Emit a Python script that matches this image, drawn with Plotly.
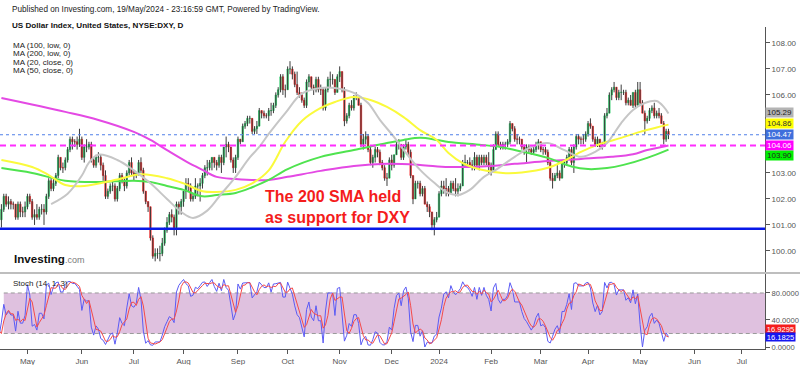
import numpy as np
import pandas as pd
import plotly.graph_objects as go

# ---------------- data ----------------
holidays = ["2023-04-07", "2023-12-25", "2024-01-01", "2024-03-29"]
all_days = pd.bdate_range("2023-04-03", "2024-05-17")
dates = [d for d in all_days if d.strftime("%Y-%m-%d") not in holidays]

opens = [
    102.5, 102.1, 101.5, 101.9, 102.0, 102.5, 102.1, 101.5, 101.2, 101.6, 102.1, 101.8, 101.9, 101.8, 101.8, 101.3, 101.8, 101.5, 101.5,
    101.7, 102.1, 101.9, 101.3, 101.4, 101.3, 101.6, 101.6, 101.5, 102.1, 102.7, 102.4, 102.6, 102.9, 103.6, 103.2, 103.2, 103.5, 103.9, 104.3, 104.2, 104.2, 104.1,
    104.3, 103.6, 104.0, 104.0, 104.1, 103.5, 103.3, 103.6, 103.6, 103.3, 102.9, 102.1, 102.3, 102.5, 102.5, 102.0, 102.4, 102.9, 102.7, 102.5, 103.0, 103.4,
    103.0, 102.9, 103.0, 103.4, 103.1, 102.3, 101.9, 101.7, 100.5, 99.8, 99.9, 99.9, 99.9, 100.3, 100.8, 101.1, 101.4, 101.3, 100.9, 101.8, 101.7,
    101.9, 102.3, 102.6, 102.5, 102.0, 102.1, 102.5, 102.5, 102.6, 102.9, 103.2, 103.2, 103.4, 103.6, 103.4, 103.3, 103.6, 103.4, 104.0, 104.1, 104.0, 103.5, 103.2,
    103.6, 104.3, 104.2, 104.8, 104.9, 105.1, 105.1, 104.6, 104.7, 104.8, 105.4, 105.3, 105.2, 105.2, 105.4, 105.4, 105.6, 106.0, 106.2, 106.7, 106.2,
    106.2, 107.0, 107.0, 106.8, 106.4, 106.1, 106.0, 105.8, 105.6, 106.5, 106.7, 106.3, 106.2, 106.6, 106.2, 106.2, 105.5, 106.2, 106.6, 106.6, 106.6, 106.1,
    106.7, 106.9, 106.2, 105.0, 105.2, 105.6, 105.5, 105.9, 105.9, 105.6, 104.1, 104.3, 104.4, 103.9, 103.4, 103.6, 103.9, 103.8, 103.4, 103.2, 102.8, 102.8,
    103.5, 103.3, 103.7, 104.1, 104.1, 103.6, 104.0, 104.1, 103.8, 102.9, 102.0, 102.6, 102.6, 102.2, 102.4, 101.8, 101.7, 101.5, 101.0, 101.2,
    101.3, 102.2, 102.5, 102.4, 102.4, 102.2, 102.6, 102.4, 102.3, 102.4, 102.5, 103.4, 103.4, 103.4, 103.3, 103.3, 103.6, 103.3, 103.6, 103.4, 103.6, 103.4,
    103.3, 103.1, 103.9, 104.5, 104.1, 104.0, 104.1, 104.1, 104.2, 104.9, 104.7, 104.3, 104.3, 104.3, 104.0, 103.9, 104.0, 103.9, 103.8, 103.9, 104.1,
    104.2, 103.9, 103.9, 103.8, 103.4, 102.8, 102.7, 102.9, 103.0, 102.8, 103.4, 103.4, 103.6, 103.9, 103.4, 104.0, 104.4, 104.3, 104.3, 104.3,
    104.5, 104.9, 104.8, 104.3, 104.1, 104.3, 104.0, 104.1, 105.2, 105.3, 106.0, 106.2, 106.3, 105.9, 106.1, 106.1, 106.1, 105.7, 105.8, 105.6, 106.1, 105.6,
    106.2, 105.7, 105.3, 105.0, 105.1, 105.4, 105.5, 105.2, 105.3, 105.2, 104.9, 104.3, 104.6,
]
highs = [
    102.8, 102.2, 102.0, 102.1, 102.6, 102.6, 102.2, 101.6, 101.8, 102.2, 102.2, 102.1, 102.0, 101.9, 101.8, 101.9, 101.9, 101.7, 101.9,
    102.2, 102.2, 102.0, 101.6, 101.8, 101.7, 101.8, 101.8, 102.2, 102.8, 102.8, 102.8, 103.0, 103.7, 103.6, 103.4, 103.6, 104.0, 104.4, 104.4, 104.3, 104.4, 104.7,
    104.4, 104.1, 104.3, 104.2, 104.2, 103.6, 103.7, 103.8, 103.7, 103.4, 103.1, 102.4, 102.6, 102.7, 102.6, 102.5, 103.0, 103.0, 102.8, 103.1, 103.5, 103.6,
    103.1, 103.0, 103.5, 103.6, 103.2, 102.3, 101.9, 101.7, 100.6, 100.1, 100.1, 100.2, 100.5, 100.9, 101.3, 101.5, 101.6, 101.4, 101.9, 101.9, 102.0,
    102.3, 102.8, 102.8, 102.6, 102.2, 102.8, 102.6, 102.8, 103.0, 103.3, 103.5, 103.5, 103.6, 103.6, 103.5, 103.7, 103.7, 104.0, 104.4, 104.2, 104.0, 103.6, 103.7,
    104.4, 104.3, 104.9, 105.0, 105.2, 105.2, 105.1, 104.8, 105.0, 105.5, 105.4, 105.4, 105.3, 105.5, 105.7, 105.7, 106.1, 106.3, 106.8, 106.8, 106.4,
    107.1, 107.3, 107.1, 106.9, 106.9, 106.3, 106.1, 105.9, 106.6, 106.8, 106.7, 106.4, 106.7, 106.7, 106.4, 106.3, 106.3, 106.7, 106.9, 106.8, 106.6, 106.8,
    107.1, 106.9, 106.3, 105.3, 105.7, 105.8, 106.0, 106.1, 105.9, 105.7, 104.5, 104.6, 104.5, 104.0, 103.7, 104.0, 104.0, 103.9, 103.5, 103.3, 103.0, 103.6,
    103.7, 103.7, 104.2, 104.3, 104.1, 104.1, 104.3, 104.2, 103.9, 102.9, 102.7, 102.7, 102.7, 102.5, 102.5, 101.9, 101.8, 101.5, 101.3, 101.5,
    102.3, 102.7, 102.7, 102.8, 102.5, 102.7, 102.7, 102.8, 102.6, 102.6, 103.5, 103.7, 103.5, 103.6, 103.5, 103.8, 103.7, 103.7, 103.7, 103.7, 103.7, 103.8,
    103.4, 104.1, 104.6, 104.6, 104.2, 104.2, 104.2, 104.3, 105.0, 104.9, 104.8, 104.5, 104.4, 104.3, 104.1, 104.1, 104.1, 104.0, 104.0, 104.2, 104.3,
    104.2, 104.0, 104.0, 103.9, 103.5, 103.0, 103.0, 103.3, 103.1, 103.5, 103.5, 103.7, 104.0, 104.0, 104.1, 104.5, 104.5, 104.4, 104.5, 104.6,
    105.0, 105.1, 104.8, 104.4, 104.4, 104.3, 104.2, 105.3, 105.5, 106.1, 106.3, 106.5, 106.3, 106.2, 106.4, 106.2, 106.2, 105.9, 106.0, 106.1, 106.2, 106.5,
    106.5, 105.8, 105.4, 105.2, 105.5, 105.6, 105.7, 105.4, 105.5, 105.3, 105.0, 104.7, 104.7,
]
lows = [
    101.9, 101.4, 101.4, 101.6, 101.9, 102.0, 101.4, 100.9, 100.9, 101.5, 101.7, 101.6, 101.6, 101.6, 101.2, 101.2, 101.3, 101.3, 101.3,
    101.6, 101.8, 101.2, 101.0, 101.2, 101.2, 101.4, 101.0, 101.4, 102.0, 102.3, 102.3, 102.5, 102.8, 103.1, 103.0, 103.1, 103.4, 103.8, 103.9, 104.0, 103.9, 104.0,
    103.5, 103.4, 103.8, 103.9, 103.4, 103.2, 103.2, 103.4, 103.1, 102.7, 102.0, 102.0, 102.2, 102.3, 101.9, 101.9, 102.3, 102.6, 102.3, 102.4, 102.9, 102.9,
    102.7, 102.8, 102.9, 103.0, 102.2, 101.8, 101.5, 100.4, 99.7, 99.6, 99.7, 99.6, 99.8, 100.2, 100.7, 101.0, 101.1, 100.6, 100.6, 101.4, 101.4,
    101.7, 102.0, 102.3, 101.9, 101.9, 102.0, 102.1, 101.9, 102.4, 102.8, 102.9, 103.1, 103.1, 103.2, 103.1, 103.2, 103.0, 103.3, 103.6, 103.8, 103.4, 103.0, 103.0,
    103.5, 104.1, 104.2, 104.7, 104.8, 104.9, 104.5, 104.5, 104.5, 104.8, 105.1, 105.1, 105.1, 105.0, 105.2, 105.3, 105.5, 105.9, 106.1, 106.0, 105.9,
    106.2, 106.8, 106.6, 106.3, 106.0, 105.9, 105.7, 105.5, 105.5, 106.3, 106.2, 106.0, 106.1, 106.1, 106.0, 105.4, 105.4, 106.1, 106.3, 106.4, 106.0, 106.1,
    106.5, 106.1, 104.8, 104.9, 105.1, 105.4, 105.4, 105.8, 105.6, 104.0, 103.9, 104.1, 103.8, 103.3, 103.2, 103.4, 103.6, 103.3, 103.1, 102.7, 102.5, 102.8,
    103.1, 103.2, 103.7, 103.9, 103.5, 103.5, 103.9, 103.7, 102.8, 101.8, 102.0, 102.4, 102.1, 102.1, 101.8, 101.5, 101.3, 100.8, 100.6, 101.1,
    101.3, 102.1, 102.2, 102.1, 102.1, 102.2, 102.3, 102.1, 102.1, 102.3, 102.5, 103.2, 103.2, 103.2, 103.1, 103.1, 103.2, 103.1, 103.3, 103.3, 103.3, 103.0,
    102.9, 103.1, 103.9, 104.0, 103.9, 103.9, 103.9, 104.0, 104.1, 104.6, 104.2, 104.1, 104.1, 103.9, 103.7, 103.4, 103.8, 103.7, 103.7, 103.8, 103.9,
    103.8, 103.7, 103.7, 103.3, 102.7, 102.4, 102.7, 102.8, 102.7, 102.8, 103.2, 103.3, 103.5, 103.3, 103.0, 103.9, 104.1, 104.1, 104.1, 104.2,
    104.4, 104.7, 104.2, 104.0, 104.0, 104.0, 103.9, 104.0, 105.1, 105.3, 105.8, 106.1, 105.8, 105.8, 105.8, 106.0, 105.6, 105.6, 105.6, 105.5, 105.5, 105.6,
    105.6, 105.3, 104.5, 104.9, 105.0, 105.3, 105.1, 105.1, 105.1, 104.9, 104.1, 104.2, 104.3,
]
closes = [
    102.1, 101.5, 101.9, 101.9, 102.5, 102.1, 101.5, 101.2, 101.6, 102.1, 101.8, 101.9, 101.8, 101.8, 101.3, 101.8, 101.5, 101.5, 101.7,
    102.1, 101.9, 101.3, 101.4, 101.3, 101.6, 101.6, 101.5, 102.1, 102.7, 102.4, 102.6, 102.9, 103.6, 103.2, 103.2, 103.5, 103.9, 104.3, 104.2, 104.2, 104.1, 104.3,
    103.6, 104.0, 104.0, 104.1, 103.5, 103.3, 103.6, 103.6, 103.3, 102.9, 102.1, 102.3, 102.5, 102.5, 102.0, 102.4, 102.9, 102.7, 102.5, 103.0, 103.4, 103.0,
    102.9, 103.0, 103.4, 103.1, 102.3, 101.9, 101.7, 100.5, 99.8, 99.9, 99.9, 99.9, 100.3, 100.8, 101.1, 101.4, 101.3, 100.9, 101.8, 101.7, 101.9,
    102.3, 102.6, 102.5, 102.0, 102.1, 102.5, 102.5, 102.6, 102.9, 103.2, 103.2, 103.4, 103.6, 103.4, 103.3, 103.6, 103.4, 104.0, 104.1, 104.0, 103.5, 103.2, 103.6,
    104.3, 104.2, 104.8, 104.9, 105.1, 105.1, 104.6, 104.7, 104.8, 105.4, 105.3, 105.2, 105.2, 105.4, 105.4, 105.6, 106.0, 106.2, 106.7, 106.2, 106.2,
    107.0, 107.0, 106.8, 106.4, 106.1, 106.0, 105.8, 105.6, 106.5, 106.7, 106.3, 106.2, 106.6, 106.2, 106.2, 105.5, 106.2, 106.6, 106.6, 106.6, 106.1, 106.7,
    106.9, 106.2, 105.0, 105.2, 105.6, 105.5, 105.9, 105.9, 105.6, 104.1, 104.3, 104.4, 103.9, 103.4, 103.6, 103.9, 103.8, 103.4, 103.2, 102.8, 102.8, 103.5,
    103.3, 103.7, 104.1, 104.1, 103.6, 104.0, 104.1, 103.8, 102.9, 102.0, 102.6, 102.6, 102.2, 102.4, 101.8, 101.7, 101.5, 101.0, 101.2, 101.3,
    102.2, 102.5, 102.4, 102.4, 102.2, 102.6, 102.4, 102.3, 102.4, 102.5, 103.4, 103.4, 103.4, 103.3, 103.3, 103.6, 103.3, 103.6, 103.4, 103.6, 103.4, 103.3,
    103.1, 103.9, 104.5, 104.1, 104.0, 104.1, 104.1, 104.2, 104.9, 104.7, 104.3, 104.3, 104.3, 104.0, 103.9, 104.0, 103.9, 103.8, 103.9, 104.1, 104.2,
    103.9, 103.9, 103.8, 103.4, 102.8, 102.7, 102.9, 103.0, 102.8, 103.4, 103.4, 103.6, 103.9, 103.4, 104.0, 104.4, 104.3, 104.3, 104.3, 104.5,
    104.9, 104.8, 104.3, 104.1, 104.3, 104.0, 104.1, 105.2, 105.3, 106.0, 106.2, 106.3, 105.9, 106.1, 106.1, 106.1, 105.7, 105.8, 105.6, 106.1, 105.6, 106.2,
    105.7, 105.3, 105.0, 105.1, 105.4, 105.5, 105.2, 105.3, 105.2, 104.9, 104.3, 104.6, 104.47,
]

# Moving averages
ma20_dates = ["2023-05-15", "2023-05-24", "2023-06-01", "2023-06-06", "2023-06-12", "2023-06-22", "2023-07-03",
              "2023-07-12", "2023-07-21", "2023-07-31", "2023-08-07", "2023-08-15", "2023-08-23", "2023-08-31",
              "2023-09-08", "2023-09-14", "2023-09-20", "2023-09-29", "2023-10-10", "2023-10-20", "2023-10-30",
              "2023-11-09", "2023-11-17", "2023-11-24", "2023-12-04", "2023-12-11", "2023-12-19", "2023-12-28",
              "2024-01-05", "2024-01-12", "2024-01-19", "2024-01-29", "2024-02-05", "2024-02-15", "2024-02-26",
              "2024-03-06", "2024-03-15", "2024-03-26", "2024-04-04", "2024-04-11", "2024-04-19", "2024-04-26",
              "2024-05-03", "2024-05-10", "2024-05-15", "2024-05-17"]
ma20_vals = [101.80, 102.20, 102.90, 103.40, 103.70, 103.50, 103.10,
             102.60, 102.00, 101.50, 101.27, 101.55, 102.20, 102.85,
             103.60, 104.00, 104.50, 105.30, 106.05, 106.27, 106.27,
             106.08, 105.69, 105.04, 104.38, 103.77, 103.12, 102.62,
             102.27, 102.15, 102.35, 102.85, 103.12, 103.62, 104.00,
             104.15, 103.88, 103.62, 103.81, 104.15, 104.92, 105.42,
             105.69, 105.77, 105.54, 105.29]

ma50_dates = ["2023-04-14", "2023-05-03", "2023-05-12", "2023-05-23", "2023-06-02", "2023-06-22", "2023-07-06",
              "2023-07-21", "2023-08-01", "2023-08-11", "2023-08-21", "2023-08-31", "2023-09-11", "2023-09-20",
              "2023-09-29", "2023-10-10", "2023-10-20", "2023-10-30", "2023-11-09", "2023-11-20", "2023-11-29",
              "2023-12-08", "2023-12-19", "2023-12-29", "2024-01-08", "2024-01-16", "2024-01-26", "2024-02-08",
              "2024-02-20", "2024-03-06", "2024-03-14", "2024-03-26", "2024-04-05", "2024-04-19", "2024-05-01",
              "2024-05-10", "2024-05-17"]
ma50_vals = [103.50, 103.23, 102.92, 102.54, 102.50, 102.75, 102.95,
             102.80, 102.60, 102.30, 102.27, 102.35, 102.60, 103.10,
             104.20, 105.00, 105.50, 105.73, 105.92, 105.81, 105.54,
             105.15, 104.65, 104.27, 103.77, 103.38, 103.12, 103.00,
             103.02, 103.20, 103.42, 103.81, 104.08, 104.35, 104.58,
             104.75, 104.86]

ma100_dates = ["2023-04-14", "2023-05-03", "2023-05-23", "2023-06-12", "2023-07-03", "2023-07-12", "2023-07-21",
               "2023-08-01", "2023-08-11", "2023-08-21", "2023-08-31", "2023-09-11", "2023-09-20", "2023-10-02",
               "2023-10-20", "2023-11-09", "2023-11-29", "2023-12-08", "2023-12-19", "2023-12-29", "2024-01-08",
               "2024-01-26", "2024-02-07", "2024-02-15", "2024-03-06", "2024-03-20", "2024-04-01", "2024-04-11",
               "2024-04-22", "2024-05-06", "2024-05-17"]
ma100_vals = [103.19, 103.00, 102.70, 102.65, 102.70, 102.65, 102.50,
              102.35, 102.10, 102.15, 102.23, 102.45, 102.73, 103.15,
              103.62, 103.88, 104.15, 104.27, 104.35, 104.27, 104.19,
              104.08, 104.00, 103.88, 103.58, 103.25, 103.15, 103.19,
              103.31, 103.58, 103.90]

ma200_dates = ["2023-04-14", "2023-05-23", "2023-06-12", "2023-07-03", "2023-07-12", "2023-07-21", "2023-08-02",
               "2023-08-11", "2023-08-21", "2023-08-31", "2023-09-20", "2023-10-02", "2023-10-20", "2023-11-09",
               "2023-11-29", "2023-12-19", "2024-01-08", "2024-01-26", "2024-02-15", "2024-03-06", "2024-03-26",
               "2024-04-15", "2024-04-26", "2024-05-06", "2024-05-17"]
ma200_vals = [105.88, 105.35, 105.04, 104.58, 104.27, 103.88, 103.45,
              103.12, 102.85, 102.77, 102.73, 102.85, 103.08, 103.27,
              103.35, 103.31, 103.23, 103.25, 103.35, 103.46, 103.54,
              103.62, 103.72, 103.88, 104.06]

support_level = 100.85
sma_level = 104.06
stoch_last = {"d": 16.9295, "k": 16.1825}

main_ticks = [100, 101, 102, 103, 104, 105, 106, 107, 108]
hidden_main_ticks = [104, 105]          # covered by the value boxes in the reference
stoch_ticks = [0, 40, 80]
month_ticks = ["2023-05-01", "2023-06-01", "2023-07-03", "2023-08-01", "2023-09-01", "2023-10-02", "2023-11-01",
               "2023-12-01", "2024-01-02", "2024-02-01", "2024-03-01", "2024-04-01", "2024-05-01", "2024-06-03",
               "2024-07-01"]
month_labels = ["May", "Jun", "Jul", "Aug", "Sep", "Oct", "Nov", "Dec", "2024", "Feb", "Mar", "Apr", "May", "Jun", "Jul"]

n = len(dates)
assert len(opens) == len(highs) == len(lows) == len(closes) == n, (len(opens), len(highs), len(lows), len(closes), n)

# ---------------- derived ----------------
o = np.array(opens); h = np.array(highs); l = np.array(lows); c = np.array(closes)
body_hi = np.maximum(o, c)
body_lo = np.minimum(o, c)

wx, wy = [], []
for d, lo, hi in zip(dates, lows, highs):
    wx += [d, d, None]
    wy += [lo, hi, None]

hh = pd.Series(h).rolling(14, min_periods=1).max()
ll = pd.Series(l).rolling(14, min_periods=1).min()
k = 100 * (pd.Series(c) - ll) / (hh - ll).replace(0, np.nan)
k = k.fillna(50)
dline = k.rolling(3, min_periods=1).mean()

# ---------------- figure ----------------
FONT = "Arial, Liberation Sans, sans-serif"
PW, PT, PB = 765.0, 27.0, 349.0


def px(x):
    return x / PW


def py(y):
    return (PB - y) / (PB - PT)


UP, DOWN = "#19c45a", "#f51c1c"
C_MA20, C_MA50, C_MA100, C_MA200 = "#c6c6c6", "#fafa3c", "#4fe34f", "#e449e4"

fig = go.Figure()
fig.add_trace(go.Scatter(x=wx, y=wy, mode="lines", line=dict(color="#3c3c3c", width=1),
                         hoverinfo="skip", showlegend=False, xaxis="x", yaxis="y"))
fig.add_trace(go.Candlestick(x=dates, open=o, high=body_hi, low=body_lo, close=c,
                             increasing=dict(fillcolor=UP, line=dict(color=UP, width=0.6)),
                             decreasing=dict(fillcolor=DOWN, line=dict(color=DOWN, width=0.6)),
                             whiskerwidth=0, showlegend=False, xaxis="x", yaxis="y"))
for dts, vals, col in [(ma200_dates, ma200_vals, C_MA200), (ma100_dates, ma100_vals, C_MA100),
                       (ma50_dates, ma50_vals, C_MA50), (ma20_dates, ma20_vals, C_MA20)]:
    fig.add_trace(go.Scatter(x=dts, y=vals, mode="lines", line=dict(color=col, width=2, shape="spline", smoothing=1.0),
                             hoverinfo="skip", showlegend=False, xaxis="x", yaxis="y"))

fig.add_trace(go.Scatter(x=dates, y=k, mode="lines", line=dict(color="#5b5bf5", width=1),
                         showlegend=False, xaxis="x2", yaxis="y2"))
fig.add_trace(go.Scatter(x=dates, y=dline, mode="lines", line=dict(color="#f54a4a", width=1),
                         showlegend=False, xaxis="x2", yaxis="y2"))

x_range = ["2023-04-13 09:36", "2024-07-12 19:12"]
rbreaks = [dict(bounds=["sat", "mon"]), dict(values=holidays)]

shapes = [
    # stochastic band
    dict(type="rect", xref="x2", yref="y2", x0="2023-04-17", x1=x_range[1], y0=20, y1=80,
         fillcolor="#dfc1df", line=dict(width=0), layer="below"),
    dict(type="line", xref="x2", yref="y2", x0="2023-04-17", x1=x_range[1], y0=80, y1=80,
         line=dict(color="#9a9a9a", width=1, dash="4px,3px"), layer="below"),
    dict(type="line", xref="x2", yref="y2", x0="2023-04-17", x1=x_range[1], y0=20, y1=20,
         line=dict(color="#9a9a9a", width=1, dash="4px,3px"), layer="below"),
    # horizontal levels
    dict(type="line", xref="paper", yref="y", x0=0, x1=1, y0=closes[-1], y1=closes[-1],
         line=dict(color="#4f7fe8", width=1, dash="dot"), layer="above"),
    dict(type="line", xref="paper", yref="y", x0=0, x1=1, y0=sma_level, y1=sma_level,
         line=dict(color="#ff2cff", width=2, dash="6px,4px"), layer="above"),
    dict(type="line", xref="paper", yref="y", x0=0, x1=1, y0=support_level, y1=support_level,
         line=dict(color="#0818e8", width=2.5), layer="above"),
    # pane separator
    dict(type="line", xref="paper", yref="paper", x0=0, x1=800 / PW, y0=py(273), y1=py(273),
         line=dict(color="#a8a8a8", width=1.5)),
]

ann = []
ann.append(dict(x=px(10), y=py(10), text="Published on Investing.com, 19/May/2024 - 23:16:59 GMT, Powered by TradingView.",
                font=dict(size=8.2, color="#222"), xanchor="left", yanchor="middle"))
ann.append(dict(x=px(10), y=py(25), text="<b>US Dollar Index, United States, NYSE:DXY, D</b>",
                font=dict(size=8.1, color="#111"), xanchor="left", yanchor="middle"))
for i, t in enumerate(["MA (100, low, 0)", "MA (200, low, 0)", "MA (20, close, 0)", "MA (50, close, 0)"]):
    ann.append(dict(x=px(11), y=py(45 + 8.5 * i), text=t, font=dict(size=8, color="#222"),
                    xanchor="left", yanchor="middle"))
ann.append(dict(x=px(263), y=py(207), text="<b>The 200 SMA held<br>as support for DXY</b>",
                font=dict(size=16, color="#f41c1c"), xanchor="left", yanchor="middle", align="left"))
ann.append(dict(x=px(12), y=py(258), text="<b>Investing</b><span style='font-size:9px;color:#7a7a7a'>.com</span>",
                font=dict(size=11.6, color="#111"), xanchor="left", yanchor="middle"))
ann.append(dict(x=px(11), y=py(283), text="Stoch (14, 1, 3)", font=dict(size=8, color="#222"),
                xanchor="left", yanchor="middle"))

# value labels on the right axis (label y positions in pixels)
main_labels = [
    (ma20_vals[-1], 113, "#b4b4b4", "#222"),
    (ma50_vals[-1], 124, "#ffff00", "#333"),
    (closes[-1], 134.5, "#3f6fdc", "#fff"),
    (ma200_vals[-1], 145.5, "#ff00ff", "#fff"),
    (ma100_vals[-1], 155.5, "#00f000", "#222"),
]
for v, ypix, bg, fg in main_labels:
    ann.append(dict(x=px(765), y=py(ypix), text=f"{v:.2f}", font=dict(size=8, color=fg), bgcolor=bg,
                    xanchor="left", yanchor="middle", width=27, height=9, borderpad=0, align="center"))
for v, ypix, bg in [(stoch_last["d"], 328.5, "#f51c1c"), (stoch_last["k"], 337, "#1616f0")]:
    ann.append(dict(x=px(765), y=py(ypix), text=f"{v:.4f}", font=dict(size=7.6, color="#fff"), bgcolor=bg,
                    xanchor="left", yanchor="middle", width=29, height=8, borderpad=0, align="center"))
for a in ann:
    a.update(xref="paper", yref="paper", showarrow=False)

axis_common = dict(showgrid=False, zeroline=False, fixedrange=True)
fig.update_layout(
    width=800, height=365,
    margin=dict(l=0, r=35, t=27, b=16),
    paper_bgcolor="white", plot_bgcolor="white",
    font=dict(family=FONT, size=8, color="#555"),
    showlegend=False,
    boxgap=0.12,
    xaxis=dict(anchor="y", domain=[0, 1], range=x_range, rangebreaks=rbreaks, showticklabels=False,
               rangeslider=dict(visible=False), showline=False, ticks="", **axis_common),
    xaxis2=dict(anchor="y2", domain=[0, 1], range=x_range, rangebreaks=rbreaks, matches="x",
                tickmode="array", tickvals=month_ticks, ticktext=month_labels,
                showline=True, linecolor="#555", linewidth=1, ticks="outside", ticklen=4, tickcolor="#555",
                tickfont=dict(size=8, color="#555"), **axis_common),
    yaxis=dict(anchor="x", domain=[py(272), 1], range=[99.19, 108.615], side="right",
               tickmode="array", tickvals=main_ticks,
               ticktext=["" if v in hidden_main_ticks else f"{v:.2f}" for v in main_ticks],
               showline=True, linecolor="#555", linewidth=1, ticks="outside", ticklen=4, tickcolor="#555",
               tickfont=dict(size=8, color="#555"), **axis_common),
    yaxis2=dict(anchor="x2", domain=[0, py(274)], range=[-2.96, 108.1], side="right",
                tickmode="array", tickvals=stoch_ticks, ticktext=[f"{v:.4f}" for v in stoch_ticks],
                showline=True, linecolor="#555", linewidth=1, ticks="outside", ticklen=4, tickcolor="#555",
                tickfont=dict(size=7.6, color="#555"), **axis_common),
    shapes=shapes,
    annotations=ann,
)

fig.write_html("out.html", config={"displayModeBar": False})
